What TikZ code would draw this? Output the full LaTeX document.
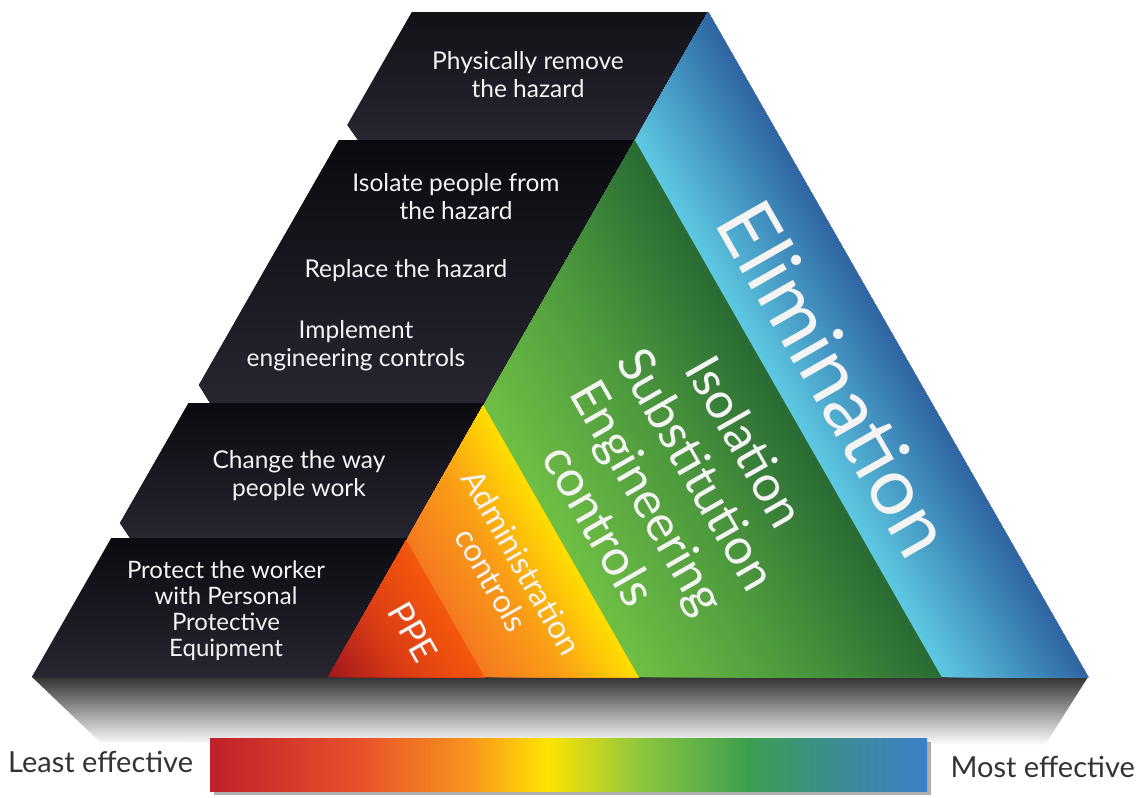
\documentclass[tikz,border=0pt]{standalone}
\usepackage{fontspec}
\setmainfont{Lato}
\definecolor{bandtop}{HTML}{0B0A10}
\definecolor{bandbot}{HTML}{272631}
\definecolor{bandtopA}{HTML}{121118}
\definecolor{ppeA}{HTML}{A3161D}
\definecolor{ppeM}{HTML}{DC3E14}
\definecolor{ppeB}{HTML}{F5580C}
\definecolor{admA}{HTML}{F47A1F}
\definecolor{admM}{HTML}{FA9E16}
\definecolor{admB}{HTML}{FFE000}
\definecolor{grnA}{HTML}{6EBE44}
\definecolor{grnM}{HTML}{4E9A3E}
\definecolor{grnB}{HTML}{286A33}
\definecolor{bluA}{HTML}{5EC8E0}
\definecolor{bluM}{HTML}{4596C3}
\definecolor{bluB}{HTML}{2E64A2}
\definecolor{labgray}{HTML}{333333}
\definecolor{txtw}{HTML}{F4F4F4}
\definecolor{barred}{HTML}{C0202A}
\definecolor{barorA}{HTML}{E9552A}
\definecolor{barorB}{HTML}{F7941D}
\definecolor{baryel}{HTML}{FFE300}
\definecolor{bargrA}{HTML}{8DC63F}
\definecolor{bargrB}{HTML}{3C9F4E}
\definecolor{barteal}{HTML}{3B8E8C}
\definecolor{barblue}{HTML}{3B80CC}
% TikZ maps the path's bounding box onto 25bp..75bp of a 100bp shading
\pgfdeclarehorizontalshading{effbar}{100bp}{color(0bp)=(barred); color(25bp)=(barred); color(36bp)=(barorA); color(43bp)=(barorB); color(48.5bp)=(baryel); color(55bp)=(bargrA); color(62.5bp)=(bargrB); color(68bp)=(barteal); color(75bp)=(barblue); color(100bp)=(barblue)}
% strips parallel to the right edge of the triangle, between base x #1 and #2
\newcommand{\gradstrips}[5]{%
  \foreach \i in {0,...,49}{%
    \pgfmathsetmacro{\xx}{#1+(#2-#1)*\i/50}%
    \ifnum\i<25
      \pgfmathtruncatemacro{\pc}{100-4*\i}%
      \colorlet{stripcol}{#3!\pc!#4}%
    \else
      \pgfmathtruncatemacro{\pc}{100-4*(\i-25)}%
      \colorlet{stripcol}{#4!\pc!#5}%
    \fi
    \fill[stripcol] (\xx-380,12) -- (\xx,677) -- (#2+30,677) -- (#2-350,12) -- cycle;
  }%
}
\tikzset{
  band/.style={top color=bandtop, bottom color=bandbot},
  bandtxt/.style={text=txtw, align=center, inner sep=0pt, font=\fontsize{24.5}{28}\selectfont},
  rottxt/.style={text=txtw, align=center, inner sep=0pt, rotate=-60.3},
  efflabel/.style={text=labgray, inner sep=0pt, font=\fontsize{29}{30}\selectfont}
}
\begin{document}
\begin{tikzpicture}[x=1pt,y=-1pt]
\useasboundingbox (0,0) rectangle (1136,798);
\fill[white] (0,0) rectangle (1136,798);

% shadow under the pyramid
\shade[top color=black!80, middle color=black!22, bottom color=white]
  (32,677) -- (1088,677) -- (1045,745) -- (100,742) -- cycle;

% black bands
\fill[top color=bandtopA, bottom color=bandbot] (412,12) -- (708,12) -- (634.86,140) -- (358,140) -- (347.4,125) -- cycle;
\fill[band] (338.9,140) -- (637.9,140) -- (487.6,403) -- (210,403) -- (198.9,385) -- cycle;
\fill[band] (188.6,403) -- (487.6,403) -- (410.4,538) -- (130,538) -- (120,523) -- cycle;
\fill[band] (111.4,538) -- (410.4,538) -- (331,677) -- (32,677) -- cycle;

% coloured triangle
\begin{scope}
  \clip (328,677) -- (406.29,540) -- (484.57,677) -- cycle;
  \gradstrips{328}{484.57}{ppeA}{ppeM}{ppeB}
\end{scope}
\begin{scope}
  \clip (406.29,540) -- (483.43,405) -- (638.86,677) -- (484.57,677) -- cycle;
  \gradstrips{484.57}{638.86}{admA}{admM}{admB}
\end{scope}
\begin{scope}
  \clip (483.43,405) -- (634.86,140) -- (941.71,677) -- (638.86,677) -- cycle;
  \gradstrips{638.86}{941.71}{grnA}{grnM}{grnB}
\end{scope}
\begin{scope}
  \clip (634.86,140) -- (708,12) -- (1088,677) -- (941.71,677) -- cycle;
  \gradstrips{941.71}{1088}{bluA}{bluM}{bluB}
\end{scope}

% texts in the black bands
\node[bandtxt] (t1) at (528,75) {Physically remove\\the hazard};
\node[bandtxt] (t2) at (456,197) {Isolate people from\\the hazard};
\node[bandtxt] (t3) at (406,271) {Replace the hazard};
\node[bandtxt] (t4) at (356,346) {Implement\\engineering controls};
\node[bandtxt] (t5) at (299,476) {Change the way\\people work};
\node[bandtxt, font=\fontsize{24}{26}\selectfont] (t6) at (226,611) {Protect the worker\\with Personal\\Protective\\Equipment};

% rotated labels
\node[rottxt, font=\fontsize{80}{82}\selectfont] (elim) at (836,378) {Elimination};
\node[rottxt, font=\fontsize{50}{56}\selectfont] (eng) at (673,483) {Isolation\\Substitution\\Engineering\\controls};
\node[rottxt, font=\fontsize{32}{35}\selectfont] (adm) at (507,571) {Administration\\controls};
\node[rottxt, font=\fontsize{35}{36}\selectfont] (ppe) at (413,632) {PPE};

% effectiveness bar
\fill[black!45, opacity=0.7] (214,742) rectangle (931,795);
\shade[shading=effbar] (210,738) rectangle (927,791);
\node[efflabel, anchor=base west] (least) at (8,772) {Least effective};
\node[efflabel, anchor=base east] (most) at (1135,777) {Most effective};
\end{tikzpicture}
\end{document}
